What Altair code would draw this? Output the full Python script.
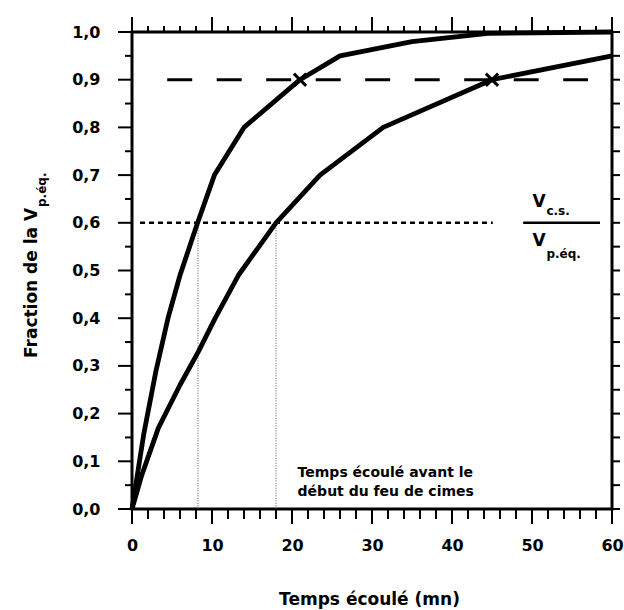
import altair as alt
import pandas as pd

# ---------------- data ----------------
curve_a_t = [0, 1.5, 3, 4.5, 6, 8.2, 10.3, 14, 21, 26, 35, 44.5, 60]
curve_a_f = [0, 0.16, 0.29, 0.40, 0.49, 0.60, 0.70, 0.80, 0.90, 0.95, 0.98, 0.997, 1.0]
curve_b_t = [0, 1.2, 3.3, 6, 8.3, 10.4, 13.3, 18, 23.5, 31.4, 45, 60]
curve_b_f = [0, 0.07, 0.17, 0.26, 0.33, 0.40, 0.49, 0.60, 0.70, 0.80, 0.90, 0.95]

marker_t = [21, 45]
marker_f = [0.9, 0.9]

x_major = [0, 10, 20, 30, 40, 50, 60]
x_minor = [t for t in range(0, 61, 2) if t % 10 != 0]
y_major = [round(i * 0.1, 2) for i in range(11)]
y_minor = [round(0.05 + i * 0.1, 2) for i in range(10)]
y_all = sorted(y_major + y_minor)

dash_line = {"t": 4.4, "t2": 57.0, "f": 0.9}
dot_line = {"t": 1.0, "t2": 45.1, "f": 0.6}
vert_t = [8.25, 18.0]
vert_f = [0.6, 0.6]
frac_bar = {"t": 48.9, "t2": 58.5, "f": 0.6}

FONT = "DejaVu Sans"
W, H = 480, 477

xs = alt.Scale(domain=[0, 60], nice=False, zero=False)
ys = alt.Scale(domain=[0, 1], nice=False, zero=False)

AX = alt.Axis(
    values=x_major, ticks=False, tickSize=0, domain=False, grid=False,
    labelFont=FONT, labelFontSize=16, labelFontWeight="bold", labelColor="black",
    labelPadding=28, labelFlush=False, labelOverlap=False,
    title="Temps écoulé (mn)", titleFont=FONT, titleFontSize=17, titleFontWeight="bold",
    titleColor="black", titleBaseline="alphabetic", titleY=95, titleX=237)
AY = alt.Axis(
    values=y_major, ticks=False, tickSize=0, domain=False, grid=False,
    labelExpr="replace(format(datum.value, '.1f'), '.', ',')",
    labelFont=FONT, labelFontSize=16, labelFontWeight="bold", labelColor="black",
    labelPadding=32, labelFlush=False, labelOverlap=False, title=None)


def X(field):
    return alt.X(field, scale=xs, axis=AX)


def Y(field):
    return alt.Y(field, scale=ys, axis=AY)


curves = pd.DataFrame(
    {"t": curve_a_t + curve_b_t,
     "f": curve_a_f + curve_b_f,
     "c": ["A"] * len(curve_a_t) + ["B"] * len(curve_b_t)}
)

lines = alt.Chart(curves).mark_line(color="black", strokeWidth=4.8, strokeJoin="round").encode(
    x=X("t:Q"), y=Y("f:Q"), detail="c:N", order="t:Q",
)

markers = alt.Chart(pd.DataFrame({"t": marker_t, "f": marker_f})).mark_point(
    shape="M-1,-1L1,1M-1,1L1,-1", size=150, stroke="black", strokeWidth=3, filled=False, opacity=1
).encode(x=X("t:Q"), y=Y("f:Q"))

dashed = alt.Chart(pd.DataFrame([dash_line])).mark_rule(
    color="black", strokeWidth=3, strokeDash=[25, 24.5]
).encode(x=X("t:Q"), x2="t2:Q", y=Y("f:Q"))

dotted = alt.Chart(pd.DataFrame([dot_line])).mark_rule(
    color="black", strokeWidth=2.5, strokeDash=[5, 4]
).encode(x=X("t:Q"), x2="t2:Q", y=Y("f:Q"))

verts = alt.Chart(pd.DataFrame({"t": vert_t, "f": vert_f, "z": [0, 0]})).mark_rule(
    color="#555555", strokeWidth=1, strokeDash=[1, 1.5]
).encode(x=X("t:Q"), y=Y("f:Q"), y2="z:Q")

bar = alt.Chart(pd.DataFrame([frac_bar])).mark_rule(color="black", strokeWidth=2.5).encode(
    x=X("t:Q"), x2="t2:Q", y=Y("f:Q"))


# ---- tick marks ----
def xticks(vals, y0, y1):
    return alt.Chart(pd.DataFrame({"t": vals})).mark_rule(color="black", strokeWidth=2).encode(
        x=X("t:Q"), y=alt.value(y0), y2=alt.value(y1))


def yticks(vals, x0, x1):
    return alt.Chart(pd.DataFrame({"f": vals})).mark_rule(color="black", strokeWidth=2).encode(
        y=Y("f:Q"), x=alt.value(x0), x2=alt.value(x1))


ticks = [
    xticks(x_major, H, H + 15), xticks(x_minor, H, H + 10),
    xticks(x_major, 0, -15), xticks(x_minor, 0, -6),
    yticks(y_major, 0, -14), yticks(y_minor, 0, -7),
    yticks(y_all, W, W + 8),
]

# ---- annotations ----
ann = pd.DataFrame({
    "t": [20.7, 20.7],
    "f": [0.067, 0.027],
    "s": ["Temps écoulé avant le", "début du feu de cimes"],
})
ann_text = alt.Chart(ann).mark_text(
    font=FONT, fontSize=14, fontWeight="bold", align="left", baseline="alphabetic", color="black"
).encode(x=X("t:Q"), y=Y("f:Q"), text="s:N")

frac_v = pd.DataFrame({"t": [50.9, 50.9], "f": [0.633, 0.551], "s": ["V", "V"]})
frac_sub = pd.DataFrame({"t": [51.8, 51.8], "f": [0.617, 0.527], "s": ["c.s.", "p.éq."]})
frac_v_text = alt.Chart(frac_v).mark_text(
    font=FONT, fontSize=17, fontWeight="bold", align="center", baseline="alphabetic", color="black"
).encode(x=X("t:Q"), y=Y("f:Q"), text="s:N")
frac_sub_text = alt.Chart(frac_sub).mark_text(
    font=FONT, fontSize=12, fontWeight="bold", align="left", baseline="alphabetic", color="black"
).encode(x=X("t:Q"), y=Y("f:Q"), text="s:N")

ytitle_main = alt.Chart(pd.DataFrame({"s": ["Fraction de la V"]})).mark_text(
    font=FONT, fontSize=17, fontWeight="bold", align="left", baseline="alphabetic",
    angle=270, color="black"
).encode(x=alt.value(-95), y=alt.value(326), text="s:N")
ytitle_sub = alt.Chart(pd.DataFrame({"s": ["p.éq."]})).mark_text(
    font=FONT, fontSize=12, fontWeight="bold", align="left", baseline="alphabetic",
    angle=270, color="black"
).encode(x=alt.value(-86), y=alt.value(175), text="s:N")

chart = alt.layer(
    verts, dotted, dashed, bar, *ticks, lines, markers,
    ann_text, frac_v_text, frac_sub_text, ytitle_main, ytitle_sub,
).properties(
    width=W, height=H,
    autosize=alt.AutoSizeParams(type="none"),
    padding={"left": 132, "top": 32, "right": 12, "bottom": 101},
    background="white",
).configure_view(stroke="black", strokeWidth=3)

chart.save("out.html", embed_options={"renderer": "svg", "actions": False})
